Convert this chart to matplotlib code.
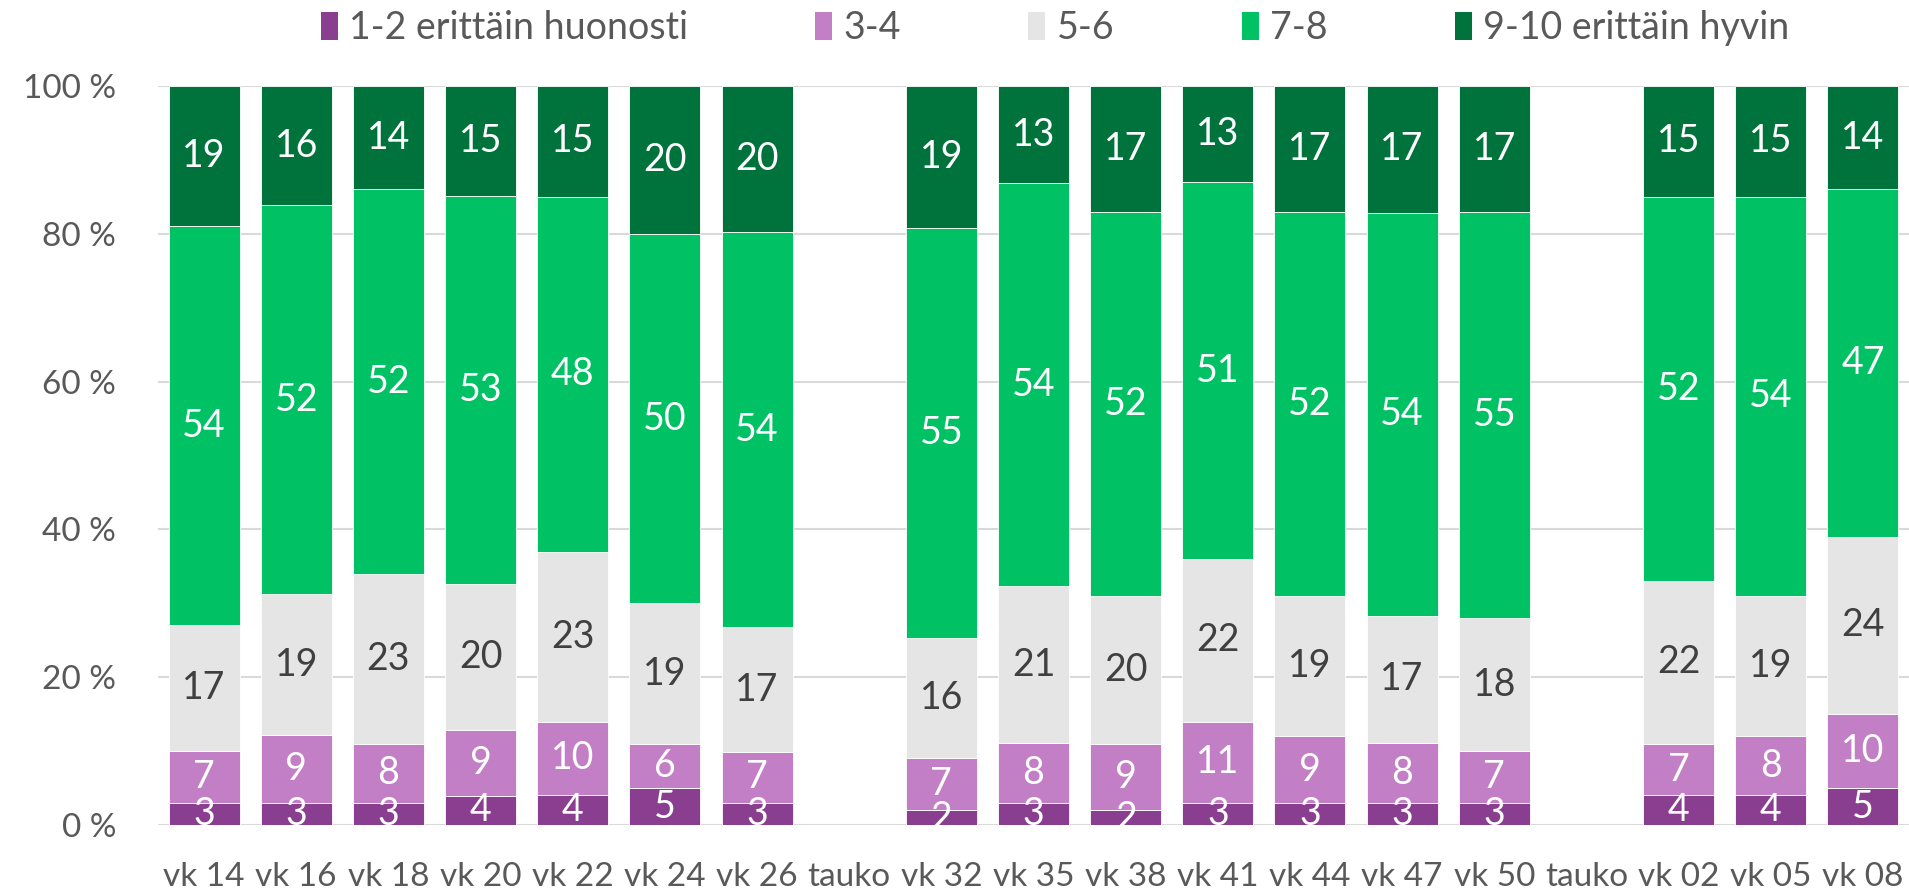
import numpy as np
import matplotlib
matplotlib.use("Agg")
import matplotlib.pyplot as plt
from matplotlib.patches import Patch
from matplotlib.ticker import FixedLocator

categories = ["vk 14", "vk 16", "vk 18", "vk 20", "vk 22", "vk 24", "vk 26", "tauko",
              "vk 32", "vk 35", "vk 38", "vk 41", "vk 44", "vk 47", "vk 50", "tauko",
              "vk 02", "vk 05", "vk 08"]
nan = np.nan
s12 = [3, 3, 3, 4, 4, 5, 3, nan, 2, 3, 2, 3, 3, 3, 3, nan, 4, 4, 5]
s34 = [7, 9, 8, 9, 10, 6, 7, nan, 7, 8, 9, 11, 9, 8, 7, nan, 7, 8, 10]
s56 = [17, 19, 23, 20, 23, 19, 17, nan, 16, 21, 20, 22, 19, 17, 18, nan, 22, 19, 24]
s78 = [54, 52, 52, 53, 48, 50, 54, nan, 55, 54, 52, 51, 52, 54, 55, nan, 52, 54, 47]
s910 = [19, 16, 14, 15, 15, 20, 20, nan, 19, 13, 17, 13, 17, 17, 17, nan, 15, 15, 14]
series_names = ["1-2 erittäin huonosti", "3-4", "5-6", "7-8", "9-10 erittäin hyvin"]
y_ticks = [0, 20, 40, 60, 80, 100]

colors = ["#8A3E8F", "#C27FC5", "#E5E5E5", "#00C264", "#00733D"]
label_colors = ["white", "white", "#404040", "white", "white"]

plt.rcParams['font.family'] = ['Lato', 'DejaVu Sans']

fig = plt.figure(figsize=(19.09, 8.90), dpi=100)
ax = fig.add_axes([158 / 1909, 1 - 825 / 890, 1 - 158 / 1909, (825 - 86) / 890])

data = np.array([s12, s34, s56, s78, s910], dtype=float)
totals = np.nansum(data, axis=0)
x = np.arange(len(categories))
bottoms = np.zeros(len(categories))
for k in range(5):
    vals = data[k]
    h = np.where(np.isnan(vals), 0, vals / np.where(totals == 0, 1, totals) * 100)
    ax.bar(x, h, 0.77, bottom=bottoms, color=colors[k], edgecolor="white",
           linewidth=0.6, zorder=3)
    for i in range(len(categories)):
        if np.isnan(vals[i]):
            continue
        ax.text(x[i], bottoms[i] + h[i] / 2, f"{int(vals[i])}", ha="center",
                va="center", fontsize=27, color=label_colors[k], zorder=5,
                clip_on=True)
    bottoms = bottoms + h

ax.set_xlim(-0.5, len(categories) - 0.5)
ax.set_ylim(0, 100)
ax.yaxis.set_major_locator(FixedLocator(y_ticks))
ax.set_yticklabels([f"{t} %" for t in y_ticks])
ax.set_xticks(x)
ax.set_xticklabels(categories)
ax.grid(axis="y", color="#D9D9D9", linewidth=1.5, zorder=0)
ax.set_axisbelow(True)
for sp in ax.spines.values():
    sp.set_visible(False)
ax.tick_params(axis="both", length=0, labelsize=24, labelcolor="#595959")
ax.tick_params(axis="y", pad=30)
ax.tick_params(axis="x", pad=27)

handles = [Patch(facecolor=c, edgecolor="none") for c in colors]
leg = fig.legend(handles, series_names, loc="center", bbox_to_anchor=(1055 / 1909, 1 - 28 / 890),
                 ncol=5, frameon=False, fontsize=27, handlelength=0.45, handleheight=0.8,
                 handletextpad=0.3, columnspacing=3.4, borderpad=0)
for t in leg.get_texts():
    t.set_color("#595959")

fig.savefig("out.png", dpi=100)
